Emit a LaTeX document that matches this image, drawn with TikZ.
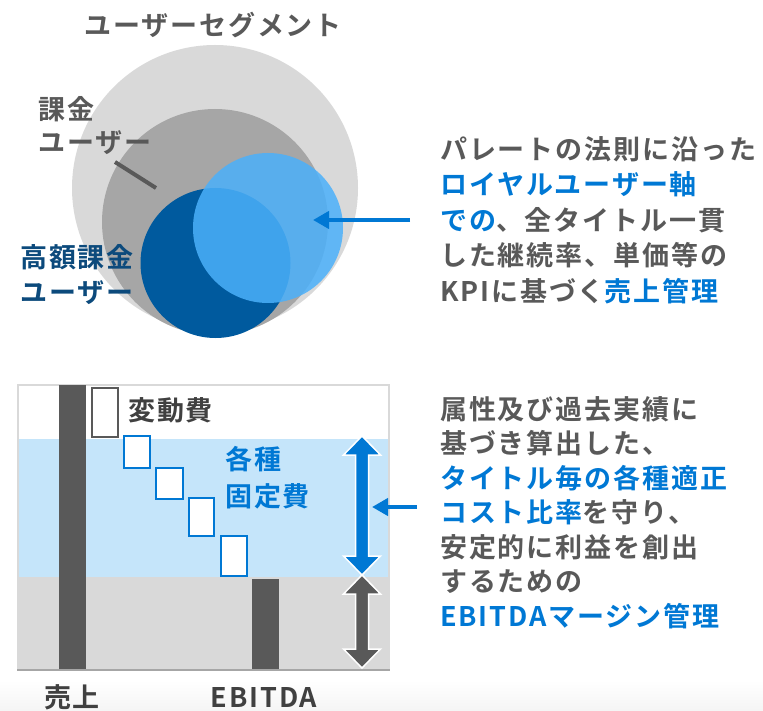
\documentclass[tikz,border=0pt]{standalone}
\usepackage{fontspec}
\newfontfamily\jp[LetterSpace=7]{Noto Sans CJK JP Bold}
\usetikzlibrary{arrows.meta}
\definecolor{lgray}{RGB}{217,217,217}
\definecolor{mgray}{RGB}{166,166,166}
\definecolor{dgray}{RGB}{89,89,89}
\definecolor{tgray}{RGB}{89,89,89}
\definecolor{tdark}{RGB}{64,64,64}
\definecolor{dblue}{RGB}{0,90,158}
\definecolor{lblue}{RGB}{75,176,250}
\definecolor{mblue}{RGB}{0,120,212}
\definecolor{navy}{RGB}{12,74,124}
\definecolor{band}{RGB}{197,229,250}
\tikzset{
  txt/.style={inner sep=0pt, font=\jp\fontsize{27}{34.5}\selectfont, text=tgray, align=left},
  wbox/.style={fill=white, draw=mblue, line width=1.5pt},
  conn/.style={draw=mblue, line width=4.5pt, -{Triangle[length=16pt,width=17pt]}},
  darr/.style={draw=white, line width=1.5pt},
}
\begin{document}
\begin{tikzpicture}[x=1pt,y=-1pt]
\useasboundingbox (0,0) rectangle (763,711);
\shade[top color=white, bottom color=black!4] (0,680) rectangle (763,711);
% circles
\fill[lgray] (215,188) circle [radius=143pt];
\fill[mgray] (215,222) circle [radius=113pt];
\fill[dblue] (215.5,263) circle [radius=75pt];
\fill[lblue, fill opacity=0.85] (268,228) circle [radius=75pt];
\coordinate (loyal) at (313,220);
\coordinate (payl) at (156,188);
% texts top
\node[txt, anchor=center] (seg) at (213,25) {ユーザーセグメント};
\node[txt, anchor=north west, font=\jp\fontsize{27}{33}\selectfont] (pay) at (38,96) {課金\\ユーザー};
\draw[dgray, line width=4pt] (115,162) -- (payl);
\node[txt, anchor=north west, text=navy, font=\jp\fontsize{27}{35}\selectfont] (high) at (20,244) {高額課金\\ユーザー};
\node[txt, anchor=north west, font=\jp\fontsize{27}{35.5}\selectfont] (t1) at (440,136)
 {パレートの法則に沿った\\
 \textcolor{mblue}{ロイヤルユーザー軸}\\
 \textcolor{mblue}{での}、全タイトル一貫\\
 した継続率、単価等の\\
 KPIに基づく\textcolor{mblue}{売上管理}};
\coordinate (a1s) at (410,220);
\draw[conn] (a1s) -- (loyal);
% chart
\fill[white] (18,385) rectangle (389,670);
\fill[band] (18,439) rectangle (389,577);
\fill[lgray] (18,577) rectangle (389,669);
\draw[lgray, line width=1.5pt] (18,670) -- (18,385) -- (389,385) -- (389,670);
\draw[mgray, line width=2pt] (17,670) -- (390,670);
\fill[dgray] (59,385) rectangle (86,669);
\fill[dgray] (252,579) rectangle (279,669);
\draw[fill=white, draw=dgray, line width=1.5pt] (92,388) rectangle (118,437);
\draw[wbox] (124,436) rectangle (150,468);
\draw[wbox] (156,468) rectangle (183,499);
\draw[wbox] (189,498) rectangle (214,536);
\draw[wbox] (221,536) rectangle (247,576);
\node[txt, anchor=west, text=tdark] (var) at (128,410) {変動費};
\node[txt, anchor=north west, text=mblue, font=\jp\fontsize{27}{37}\selectfont] (fix) at (225,446) {各種\\固定費};
% double arrows
\filldraw[fill=mblue, darr] (362,436) -- (380.5,455) -- (368.5,455) -- (368.5,556) -- (380.5,556) -- (362,575) -- (343.5,556) -- (355.5,556) -- (355.5,455) -- (343.5,455) -- cycle;
\filldraw[fill=dgray, darr] (362,575) -- (380.5,594) -- (368.5,594) -- (368.5,649) -- (380.5,649) -- (362,668) -- (343.5,649) -- (355.5,649) -- (355.5,594) -- (343.5,594) -- cycle;
\coordinate (margin) at (372,507);
\node[txt, anchor=north west, font=\jp\fontsize{27}{34.5}\selectfont] (t2) at (440,396)
 {属性及び過去実績に\\
 基づき算出した、\\
 \textcolor{mblue}{タイトル毎の各種適正}\\
 \textcolor{mblue}{コスト比率}を守り、\\
 安定的に利益を創出\\
 するための\\
 \textcolor{mblue}{EBITDAマージン管理}};
\coordinate (a2s) at (417,507);
\draw[conn] (a2s) -- (margin);
\node[txt, anchor=center, text=tdark] (sales) at (72,697) {売上};
\node[txt, anchor=center, text=tdark] (ebitda) at (264,697) {EBITDA};
\end{tikzpicture}
\end{document}
